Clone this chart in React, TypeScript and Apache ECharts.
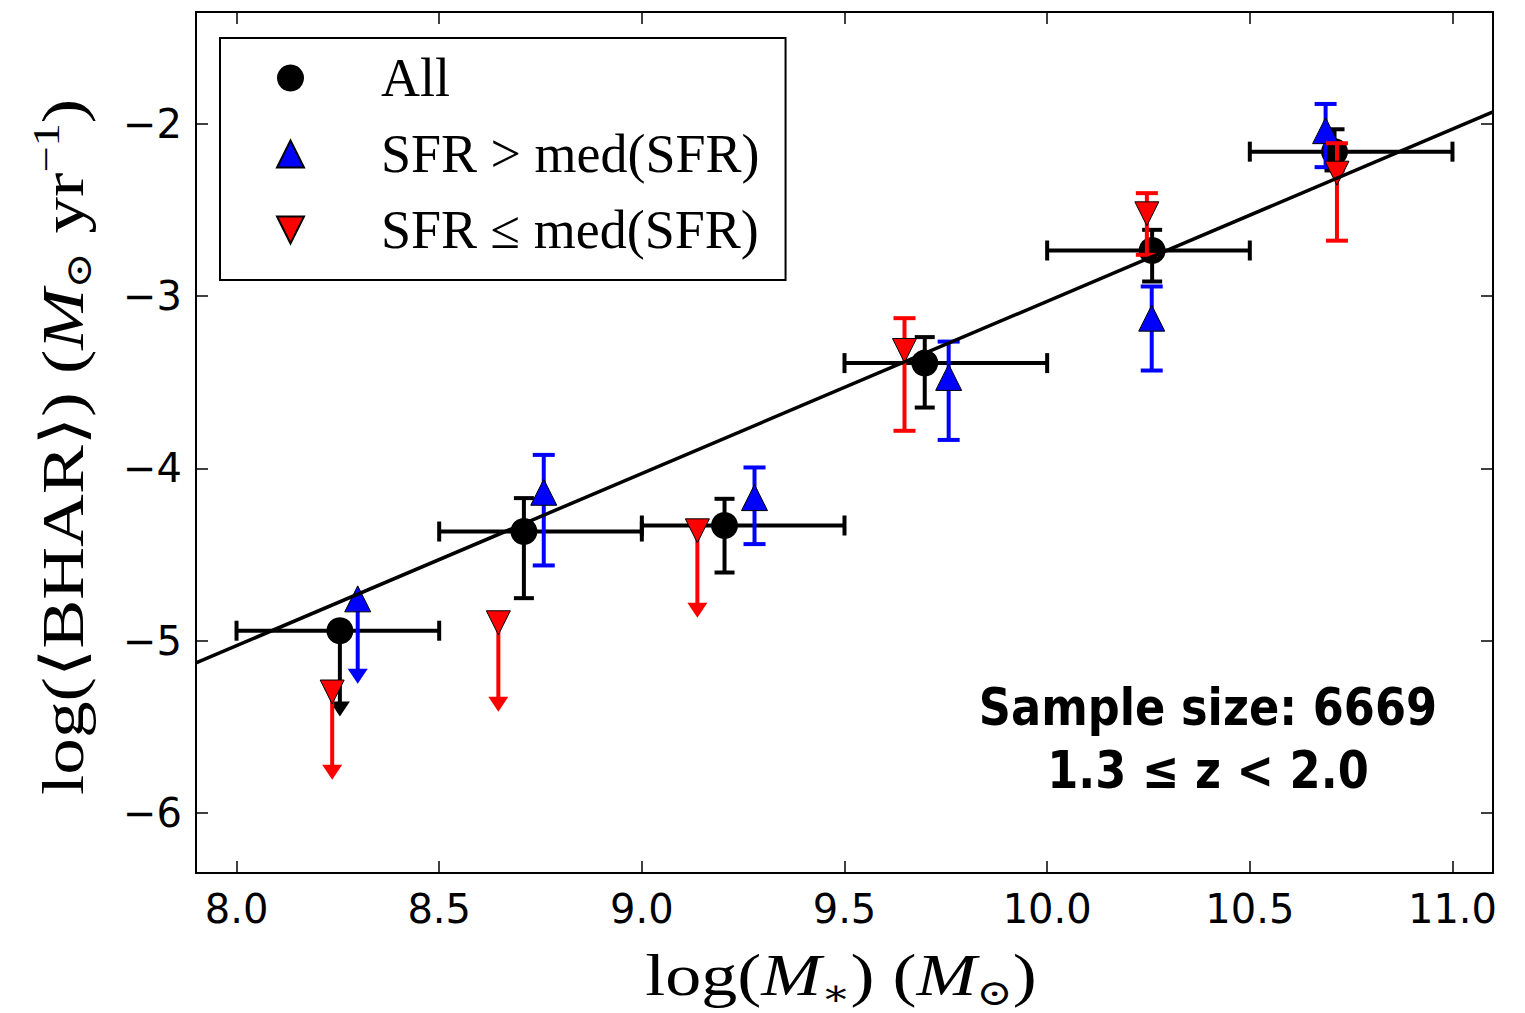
import React, { useEffect, useRef } from 'react';
import * as echarts from 'echarts';

const xTicks = [8.0, 8.5, 9.0, 9.5, 10.0, 10.5, 11.0];
const yTicks = [-6, -5, -4, -3, -2];

// All galaxies (black circles)
const allX = [8.255, 8.709, 9.204, 9.698, 10.259, 10.709];
const allY = [-4.943, -4.367, -4.332, -3.389, -2.735, -2.161];
const allYLow = [-5.441, -4.754, -4.605, -3.647, -2.915, -2.27];
const allYHigh = [null, -4.173, -4.177, -3.238, -2.615, -2.031];
const allXLow = [8.0, 8.5, 9.0, 9.5, 10.0, 10.5];
const allXHigh = [8.5, 9.0, 9.5, 10.0, 10.5, 11.0];
const allUpperLimit = [1, 0, 0, 0, 0, 0];

// SFR > med(SFR) (blue up triangles)
const hiX = [8.299, 8.758, 9.278, 9.757, 10.258, 10.687];
const hiY = [-4.758, -4.139, -4.17, -3.472, -3.128, -2.039];
const hiYLow = [-5.251, -4.564, -4.44, -3.835, -3.432, -2.251];
const hiYHigh = [null, -3.922, -3.995, -3.264, -2.944, -1.884];
const hiUpperLimit = [1, 0, 0, 0, 0, 0];

// SFR <= med(SFR) (red down triangles)
const loX = [8.236, 8.646, 9.137, 9.648, 10.246, 10.715];
const loY = [-5.299, -4.897, -4.363, -3.316, -2.522, -2.286];
const loYLow = [-5.808, -5.414, -4.868, -3.782, -2.76, -2.678];
const loYHigh = [null, null, null, -3.128, -2.402, -2.112];
const loUpperLimit = [1, 1, 1, 0, 0, 0];

// Best-fit line
const fitX = [7.9, 11.1];
const fitY = [-5.13, -1.93];

const UP_TRI = 'path://M1,0 L2,2 L0,2 Z';
const DOWN_TRI = 'path://M0,0 L2,0 L1,2 Z';

function rows(xs, ys, lo, hi, xlo, xhi, lim) {
  return xs.map((x, i) => [
    x,
    ys[i],
    lo[i],
    hi[i] == null ? ys[i] : hi[i],
    xlo ? xlo[i] : x,
    xhi ? xhi[i] : x,
    lim[i],
  ]);
}

function makeErrorRender(color, lw, cap) {
  return (params, api) => {
    const x = api.value(0);
    const y = api.value(1);
    const ylo = api.value(2);
    const yhi = api.value(3);
    const xlo = api.value(4);
    const xhi = api.value(5);
    const lim = api.value(6);
    const c = api.coord([x, y]);
    const st = { stroke: color, lineWidth: lw };
    const children = [];
    if (lim) {
      const tip = api.coord([x, ylo]);
      const headH = 15;
      const headW = 10;
      children.push({ type: 'line', shape: { x1: c[0], y1: c[1], x2: tip[0], y2: tip[1] - headH + 1 }, style: st });
      children.push({
        type: 'polygon',
        shape: { points: [[tip[0] - headW, tip[1] - headH], [tip[0] + headW, tip[1] - headH], [tip[0], tip[1]]] },
        style: { fill: color },
      });
    } else {
      const lo = api.coord([x, ylo]);
      const hi = api.coord([x, yhi]);
      children.push({ type: 'line', shape: { x1: lo[0], y1: lo[1], x2: hi[0], y2: hi[1] }, style: st });
      children.push({ type: 'line', shape: { x1: lo[0] - cap, y1: lo[1], x2: lo[0] + cap, y2: lo[1] }, style: st });
      children.push({ type: 'line', shape: { x1: hi[0] - cap, y1: hi[1], x2: hi[0] + cap, y2: hi[1] }, style: st });
    }
    if (xlo !== xhi) {
      const l = api.coord([xlo, y]);
      const r = api.coord([xhi, y]);
      children.push({ type: 'line', shape: { x1: l[0], y1: l[1], x2: r[0], y2: r[1] }, style: st });
      children.push({ type: 'line', shape: { x1: l[0], y1: l[1] - cap, x2: l[0], y2: l[1] + cap }, style: st });
      children.push({ type: 'line', shape: { x1: r[0], y1: r[1] - cap, x2: r[0], y2: r[1] + cap }, style: st });
    }
    return { type: 'group', children };
  };
}

const SERIF = "'Liberation Serif', 'DejaVu Serif', serif";

export default function App() {
  const ref = useRef<HTMLDivElement>(null);
  useEffect(() => {
    if (!ref.current) return;
    const chart = echarts.init(ref.current, null, { renderer: 'svg' });
    const tickStyle = { color: '#000', width: 1.5 };
    const option = {
      animation: false,
      backgroundColor: '#ffffff',
      grid: { left: 196, right: 32, top: 12, bottom: 140, show: true, borderColor: '#000', borderWidth: 2, backgroundColor: 'transparent' },
      xAxis: [
        {
          type: 'value', min: 7.9, max: 11.1, position: 'bottom',
          axisLine: { show: false }, splitLine: { show: false },
          axisTick: { show: true, inside: true, length: 12, customValues: xTicks, lineStyle: tickStyle },
          axisLabel: { customValues: xTicks, formatter: (v) => Number(v).toFixed(1), fontFamily: 'DejaVu Sans', fontSize: 40, color: '#000', margin: 16 },
        },
        {
          type: 'value', min: 7.9, max: 11.1, position: 'top',
          axisLine: { show: false }, splitLine: { show: false },
          axisTick: { show: true, inside: true, length: 12, customValues: xTicks, lineStyle: tickStyle },
          axisLabel: { show: false },
        },
      ],
      yAxis: [
        {
          type: 'value', min: -6.35, max: -1.35, position: 'left',
          axisLine: { show: false }, splitLine: { show: false },
          axisTick: { show: true, inside: true, length: 12, customValues: yTicks, lineStyle: tickStyle },
          axisLabel: { customValues: yTicks, formatter: (v) => (v < 0 ? '\u2212' + Math.abs(v) : String(v)), fontFamily: 'DejaVu Sans', fontSize: 40, color: '#000', margin: 14 },
        },
        {
          type: 'value', min: -6.35, max: -1.35, position: 'right',
          axisLine: { show: false }, splitLine: { show: false },
          axisTick: { show: true, inside: true, length: 12, customValues: yTicks, lineStyle: tickStyle },
          axisLabel: { show: false },
        },
      ],
      legend: {
        data: ['All', 'SFR > med(SFR)', 'SFR \u2264 med(SFR)'],
        orient: 'vertical', left: 220, top: 38,
        padding: [12, 26, 22, 56],
        itemWidth: 27, itemHeight: 27, itemGap: 20,
        borderColor: '#000', borderWidth: 2, borderRadius: 0, backgroundColor: '#fff',
        selectedMode: false,
        textStyle: { fontFamily: SERIF, fontSize: 54, color: '#000', lineHeight: 56, padding: [0, 0, 0, 72] },
      },
      graphic: [
        {
          type: 'text', x: 62, y: 447, rotation: Math.PI / 2, scaleX: 1.22, z: 100,
          style: {
            text: '{a|log(\u27E8BHAR\u27E9) (}{i|M}{s|\u2299}{a| yr}{p|\u22121}{a|)}',
            align: 'center', verticalAlign: 'middle', fill: '#000',
            rich: {
              a: { fontFamily: SERIF, fontSize: 60, lineHeight: 70, fill: '#000' },
              i: { fontFamily: SERIF, fontSize: 60, lineHeight: 70, fontStyle: 'italic', fill: '#000' },
              s: { fontFamily: SERIF, fontSize: 36, lineHeight: 30, verticalAlign: 'bottom', fill: '#000' },
              p: { fontFamily: SERIF, fontSize: 38, lineHeight: 30, verticalAlign: 'top', fill: '#000' },
            },
          },
        },
        {
          type: 'text', x: 841, y: 975, scaleX: 1.2, z: 100,
          style: {
            text: '{a|log(}{i|M}{s|\u2217}{a|) (}{i|M}{s|\u2299}{a|)}',
            align: 'center', verticalAlign: 'middle', fill: '#000',
            rich: {
              a: { fontFamily: SERIF, fontSize: 60, lineHeight: 72, fill: '#000' },
              i: { fontFamily: SERIF, fontSize: 60, lineHeight: 72, fontStyle: 'italic', fill: '#000' },
              s: { fontFamily: SERIF, fontSize: 36, lineHeight: 30, verticalAlign: 'bottom', fill: '#000' },
            },
          },
        },
        {
          type: 'text', x: 1208, y: 738, scaleX: 0.86, z: 100,
          style: {
            text: 'Sample size: 6669\n1.3 \u2264 z < 2.0',
            align: 'center', verticalAlign: 'middle', fill: '#000',
            fontFamily: 'DejaVu Sans', fontWeight: 'bold', fontSize: 52, lineHeight: 63,
          },
        },
      ],
      series: [
        {
          type: 'custom', name: 'err-all', z: 2, clip: false,
          renderItem: makeErrorRender('#000', 4, 10),
          encode: { x: 0, y: 1 },
          data: rows(allX, allY, allYLow, allYHigh, allXLow, allXHigh, allUpperLimit),
        },
        {
          type: 'scatter', name: 'All', z: 3, symbol: 'circle', symbolSize: 27,
          itemStyle: { color: '#000', opacity: 1 },
          data: allX.map((x, i) => [x, allY[i]]),
        },
        {
          type: 'custom', name: 'err-hi', z: 4, clip: false,
          renderItem: makeErrorRender('#0000ff', 4, 11),
          encode: { x: 0, y: 1 },
          data: rows(hiX, hiY, hiYLow, hiYHigh, null, null, hiUpperLimit),
        },
        {
          type: 'scatter', name: 'SFR > med(SFR)', z: 5, symbol: UP_TRI, symbolSize: 26,
          itemStyle: { color: '#0000ff', borderColor: '#000', borderWidth: 1, opacity: 1 },
          data: hiX.map((x, i) => [x, hiY[i]]),
        },
        {
          type: 'custom', name: 'err-lo', z: 6, clip: false,
          renderItem: makeErrorRender('#ff0000', 4, 11),
          encode: { x: 0, y: 1 },
          data: rows(loX, loY, loYLow, loYHigh, null, null, loUpperLimit),
        },
        {
          type: 'scatter', name: 'SFR \u2264 med(SFR)', z: 7, symbol: DOWN_TRI, symbolSize: 24,
          itemStyle: { color: '#ff0000', borderColor: '#000', borderWidth: 1, opacity: 1 },
          data: loX.map((x, i) => [x, loY[i]]),
        },
        {
          type: 'line', name: 'fit', z: 10, symbol: 'none', silent: true,
          lineStyle: { color: '#000', width: 3.5 },
          data: fitX.map((x, i) => [x, fitY[i]]),
        },
      ],
    };
    chart.setOption(option);
    return () => chart.dispose();
  }, []);
  return <div ref={ref} style={{ position: 'fixed', left: 0, top: 0, width: 1525, height: 1013, background: '#fff' }} />;
}
